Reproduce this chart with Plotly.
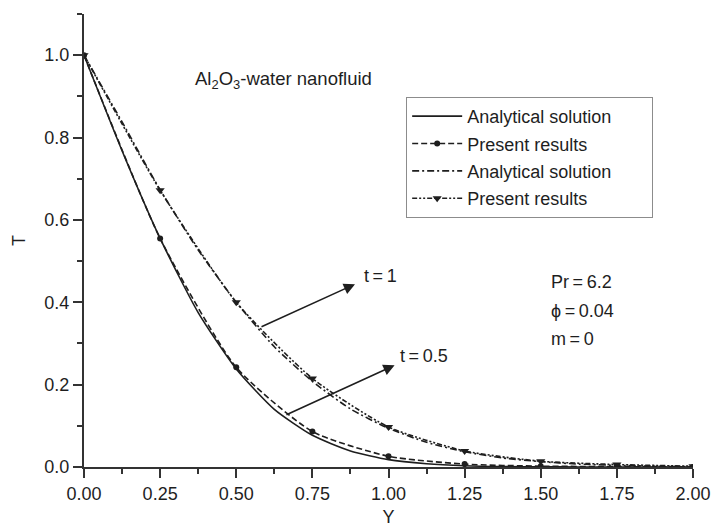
import plotly.graph_objects as go

# ---- data ----
Y_analytical = [0, 0.125, 0.25, 0.375, 0.5, 0.625, 0.75, 0.875, 1.0, 1.125, 1.25,
                1.375, 1.5, 1.625, 1.75, 1.875, 2.0]
T_analytical_t05 = [1.0, 0.768, 0.555, 0.375, 0.238, 0.140, 0.077, 0.039, 0.018, 0.008,
                    0.003, 0.001, 0.0005, 0.0, 0.0, 0.0, 0.0]
T_analytical_t1 = [1.0, 0.838, 0.673, 0.527, 0.400, 0.292, 0.208, 0.141, 0.094, 0.060,
                   0.037, 0.022, 0.013, 0.007, 0.004, 0.002, 0.001]

Y_present = [0, 0.25, 0.5, 0.75, 1.0, 1.25, 1.5, 1.75, 2.0]
T_present_t05 = [1.0, 0.555, 0.242, 0.086, 0.026, 0.007, 0.002, 0.001, 0.0]
T_present_t1 = [1.0, 0.672, 0.400, 0.215, 0.097, 0.039, 0.014, 0.006, 0.002]

legend_names = ["Analytical solution", "Present results", "Analytical solution", "Present results"]
x_ticks = [0, 0.25, 0.5, 0.75, 1.0, 1.25, 1.5, 1.75, 2.0]
x_ticklabels = ["0.00", "0.25", "0.50", "0.75", "1.00", "1.25", "1.50", "1.75", "2.00"]
y_ticks = [0, 0.2, 0.4, 0.6, 0.8, 1.0]
y_ticklabels = ["0.0", "0.2", "0.4", "0.6", "0.8", "1.0"]

FONT = "Liberation Sans, Arial, sans-serif"
INK = "#1e1e1e"
PAD = "\u00a0" * 7  # right padding inside the legend box

fig = go.Figure()
fig.add_trace(go.Scatter(x=Y_analytical, y=T_analytical_t05, mode="lines",
                         name=legend_names[0] + PAD, legendgroup="a",
                         line=dict(color=INK, width=1.6, shape="spline", smoothing=0.6)))
fig.add_trace(go.Scatter(x=Y_present, y=T_present_t05, mode="lines+markers",
                         name=legend_names[1], legendgroup="b",
                         line=dict(color=INK, width=1.6, dash="6px,3px", shape="spline", smoothing=0.6),
                         marker=dict(symbol="circle", size=6, color=INK)))
fig.add_trace(go.Scatter(x=Y_analytical, y=T_analytical_t1, mode="lines",
                         name=legend_names[2] + PAD, legendgroup="c",
                         line=dict(color=INK, width=1.6, dash="7px,3px,2px,3px", shape="spline", smoothing=0.6)))
fig.add_trace(go.Scatter(x=Y_present, y=T_present_t1, mode="lines+markers",
                         name=legend_names[3], legendgroup="d",
                         line=dict(color=INK, width=1.6, dash="5px,2px,2px,2px,2px,2px", shape="spline", smoothing=0.6),
                         marker=dict(symbol="triangle-down", size=8, color=INK)))

TXT = dict(size=18, color=INK, family=FONT)
annos = [
    dict(x=0.358, y=0.94, text="Al<sub>2</sub>O<sub>3</sub>-water nanofluid", showarrow=False,
         xanchor="left", yanchor="middle", font=dict(size=18.5, color=INK, family=FONT)),
    dict(x=0.89, y=0.444, ax=0.578, ay=0.339, axref="x", ayref="y", text="", showarrow=True,
         arrowhead=2, arrowsize=1.4, arrowwidth=1.6, arrowcolor=INK),
    dict(x=0.913, y=0.463, text="t\u2009=\u20091", showarrow=False, xanchor="left", yanchor="middle", font=TXT),
    dict(x=1.02, y=0.247, ax=0.66, ay=0.125, axref="x", ayref="y", text="", showarrow=True,
         arrowhead=2, arrowsize=1.4, arrowwidth=1.6, arrowcolor=INK),
    dict(x=1.03, y=0.269, text="t\u2009=\u20090.5", showarrow=False, xanchor="left", yanchor="middle", font=TXT),
    dict(x=1.528, y=0.449, text="Pr\u2009=\u20096.2", showarrow=False, xanchor="left", yanchor="middle", font=TXT),
    dict(x=1.528, y=0.378, text="\u03d5\u2009=\u20090.04", showarrow=False, xanchor="left", yanchor="middle", font=TXT),
    dict(x=1.528, y=0.310, text="m\u2009=\u20090", showarrow=False, xanchor="left", yanchor="middle", font=TXT),
]
for a in annos:
    a.setdefault("xref", "x")
    a.setdefault("yref", "y")
    fig.add_annotation(**a)

axis_common = dict(showgrid=False, zeroline=False, showline=True, linecolor="#333333", linewidth=2,
                   ticks="outside", tickcolor="#333333", tickwidth=2, ticklen=9, automargin=False,
                   tickfont=dict(size=18, color=INK, family=FONT))

fig.update_xaxes(range=[0, 2.0], tickvals=x_ticks, ticktext=x_ticklabels,
                 minor=dict(ticks="outside", dtick=0.125, tick0=0, ticklen=5, tickwidth=1.5, tickcolor="#333333"),
                 title=dict(text="Y", font=dict(size=18, color=INK), standoff=12),
                 **axis_common)
fig.update_yaxes(range=[0, 1.1], tickvals=y_ticks, ticktext=y_ticklabels,
                 minor=dict(ticks="outside", dtick=0.1, tick0=0, ticklen=5, tickwidth=1.5, tickcolor="#333333"),
                 title=dict(text="T", font=dict(size=18, color=INK), standoff=14),
                 **axis_common)

fig.update_layout(
    width=712, height=527,
    margin=dict(l=84, r=19, t=14, b=60),
    plot_bgcolor="white", paper_bgcolor="white",
    font=dict(family=FONT, size=18, color=INK),
    showlegend=True,
    legend=dict(x=0.529, y=0.817, xanchor="left", yanchor="top",
                bordercolor="#8c8c8c", borderwidth=1, bgcolor="white",
                font=dict(size=18, color=INK), traceorder="grouped", tracegroupgap=1,
                itemwidth=50),
)

fig.write_html("out.html")
